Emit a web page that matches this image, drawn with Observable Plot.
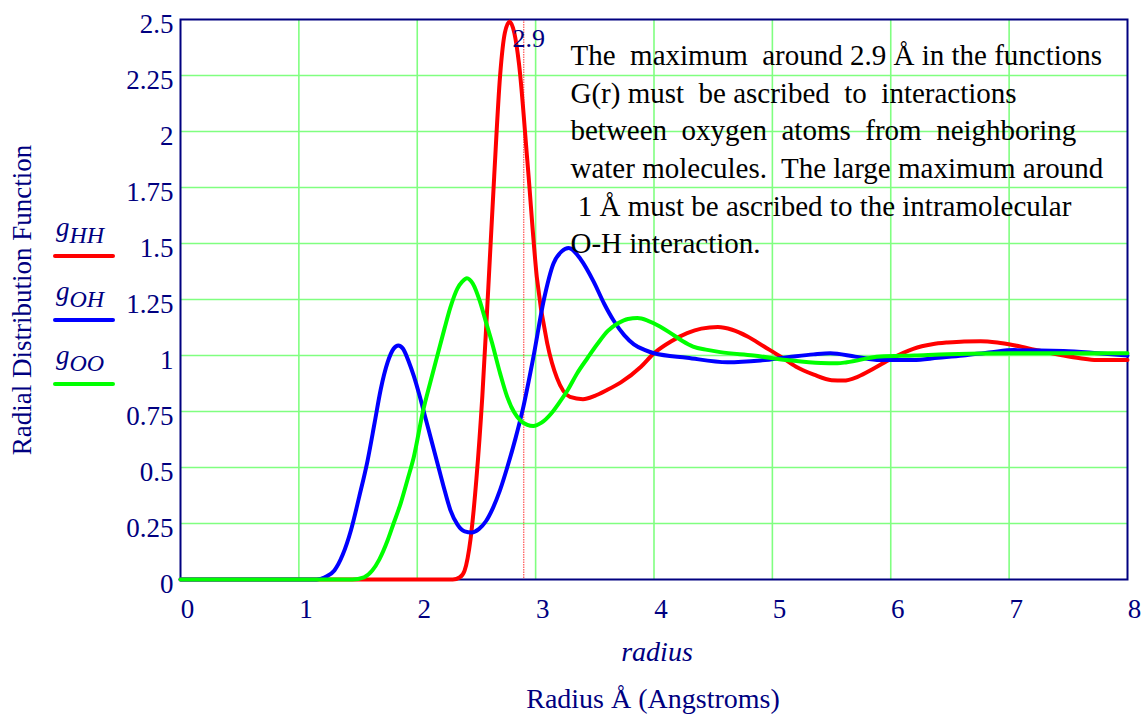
<!DOCTYPE html>
<html><head><meta charset="utf-8">
<script src="https://cdn.jsdelivr.net/npm/d3@7"></script>
<script src="https://cdn.jsdelivr.net/npm/@observablehq/plot@0.6"></script>
<style>
body{margin:0;background:#fff;}
#chart{position:relative;width:1142px;height:714px;font-family:"Liberation Serif","Times New Roman",serif;color:#000080;overflow:hidden;}
#chart svg{position:absolute;left:0;top:0;font-family:"Liberation Serif","Times New Roman",serif !important;}
#chart svg text{font-family:"Liberation Serif","Times New Roman",serif !important;white-space:pre;}
.lab{position:absolute;white-space:nowrap;line-height:1;}
.leg{position:absolute;left:56px;font-style:italic;font-size:27px;line-height:1;white-space:nowrap;}
.leg sub{font-size:24px;vertical-align:-7px;}
.swatch{position:absolute;left:53px;width:62px;height:4px;border-radius:2px;}
</style></head><body><div id="chart"></div>
<script>
// ---- data ----
const xTicks = [0, 1, 2, 3, 4, 5, 6, 7, 8];
const yTicks = [0, 0.25, 0.5, 0.75, 1, 1.25, 1.5, 1.75, 2, 2.25, 2.5];
const markerR = [2.9];

const rHH = [0, 1.0, 2.0, 2.30, 2.36, 2.40, 2.45, 2.50, 2.55, 2.60, 2.65, 2.70, 2.74, 2.78, 2.82, 2.86, 2.93, 3.01, 3.10, 3.18, 3.29, 3.40, 3.50, 3.60, 3.72, 3.89, 4.00, 4.15, 4.28, 4.40, 4.54, 4.66, 4.79, 4.93, 5.07, 5.20, 5.35, 5.50, 5.60, 5.72, 5.86, 6.00, 6.19, 6.35, 6.48, 6.62, 6.76, 6.90, 7.04, 7.25, 7.46, 7.60, 7.74, 8.00];
const gHH = [0, 0, 0, 0, 0.01, 0.04, 0.18, 0.45, 0.82, 1.30, 1.80, 2.25, 2.44, 2.49, 2.44, 2.30, 1.87, 1.35, 1.05, 0.90, 0.815, 0.805, 0.82, 0.845, 0.88, 0.95, 1.01, 1.065, 1.10, 1.12, 1.127, 1.115, 1.085, 1.04, 0.995, 0.95, 0.915, 0.89, 0.888, 0.905, 0.943, 0.985, 1.03, 1.05, 1.058, 1.063, 1.064, 1.058, 1.046, 1.022, 1.0, 0.988, 0.98, 0.98];

const rOH = [0, 0.6, 1.15, 1.22, 1.30, 1.37, 1.44, 1.51, 1.58, 1.64, 1.69, 1.75, 1.80, 1.84, 1.88, 1.93, 1.97, 2.02, 2.07, 2.12, 2.17, 2.22, 2.28, 2.34, 2.40, 2.46, 2.52, 2.58, 2.64, 2.70, 2.76, 2.83, 2.89, 2.98, 3.07, 3.15, 3.22, 3.28, 3.38, 3.49, 3.58, 3.66, 3.75, 3.83, 3.92, 4.00, 4.28, 4.62, 4.90, 5.13, 5.35, 5.49, 5.70, 5.91, 6.19, 6.40, 6.61, 6.85, 7.04, 7.46, 7.75, 8.00];
const gOH = [0, 0, 0, 0.01, 0.04, 0.11, 0.22, 0.37, 0.53, 0.70, 0.845, 0.97, 1.03, 1.045, 1.03, 0.97, 0.91, 0.82, 0.72, 0.62, 0.52, 0.42, 0.31, 0.245, 0.215, 0.21, 0.225, 0.26, 0.32, 0.40, 0.50, 0.63, 0.756, 0.99, 1.25, 1.41, 1.465, 1.48, 1.43, 1.33, 1.23, 1.155, 1.09, 1.05, 1.025, 1.01, 0.99, 0.97, 0.978, 0.992, 1.005, 1.01, 0.995, 0.98, 0.98, 0.99, 1.0, 1.015, 1.024, 1.02, 1.01, 1.0];

const rOO = [0, 0.7, 1.45, 1.55, 1.62, 1.68, 1.75, 1.80, 1.86, 1.92, 1.97, 2.05, 2.11, 2.17, 2.23, 2.28, 2.34, 2.38, 2.42, 2.47, 2.53, 2.58, 2.63, 2.70, 2.76, 2.82, 2.87, 2.93, 2.98, 3.05, 3.13, 3.20, 3.27, 3.35, 3.44, 3.52, 3.61, 3.70, 3.78, 3.86, 3.95, 4.05, 4.14, 4.24, 4.33, 4.45, 4.56, 4.84, 5.12, 5.41, 5.55, 5.63, 5.91, 6.20, 6.48, 7.04, 7.50, 8.00];
const gOO = [0, 0, 0, 0.01, 0.04, 0.09, 0.175, 0.25, 0.34, 0.45, 0.545, 0.755, 0.88, 1.0, 1.12, 1.215, 1.30, 1.33, 1.345, 1.32, 1.24, 1.15, 1.06, 0.92, 0.815, 0.745, 0.71, 0.69, 0.685, 0.70, 0.74, 0.79, 0.845, 0.92, 0.99, 1.05, 1.11, 1.145, 1.163, 1.167, 1.155, 1.13, 1.10, 1.065, 1.04, 1.025, 1.015, 1.0, 0.98, 0.966, 0.965, 0.97, 0.995, 1.0, 1.006, 1.01, 1.01, 1.01];

const seriesNames = ["HH", "OH", "OO"];
const seriesColors = ["#ff0000", "#0000ff", "#00ff00"];
const annotationLines = [
  "The  maximum  around 2.9 Å in the functions",
  "G(r) must  be ascribed  to  interactions",
  "between  oxygen  atoms  from  neighboring",
  "water molecules.  The large maximum around",
  " 1 Å must be ascribed to the intramolecular",
  "O-H interaction."
];
const yTitle = "Radial Distribution Function";
const xVarLabel = "radius";
const xTitle = "Radius Å (Angstroms)";

// ---- build tables ----
const toRows = (rs, gs, s) => rs.map((r, i) => ({r, g: gs[i], s}));
const rowsHH = toRows(rHH, gHH, "HH");
const rowsOH = toRows(rOH, gOH, "OH");
const rowsOO = toRows(rOO, gOO, "OO");

const navy = "#000080";
const gridColor = "#80ff80";
const serif = "'Liberation Serif','Times New Roman',serif";

const chart = Plot.plot({
  width: 1142,
  height: 714,
  marginLeft: 180,
  marginRight: 15,
  marginTop: 19,
  marginBottom: 135,
  style: {fontFamily: serif, fontSize: "26px", color: navy, background: "transparent", overflow: "visible"},
  x: {domain: [0, 8], ticks: xTicks, label: null},
  y: {domain: [0, 2.5], ticks: yTicks, label: null},
  marks: [
    Plot.ruleX(xTicks.slice(1, -1), {stroke: gridColor, strokeWidth: 1.6}),
    Plot.ruleY(yTicks.slice(1, -1), {stroke: gridColor, strokeWidth: 1.6}),
    Plot.ruleX(markerR, {stroke: "#ff3030", strokeWidth: 1, strokeDasharray: "1.5,1"}),
    Plot.frame({stroke: navy, strokeWidth: 2}),
    Plot.line(rowsHH, {x: "r", y: "g", stroke: seriesColors[0], strokeWidth: 4, curve: "monotone-x"}),
    Plot.line(rowsOH, {x: "r", y: "g", stroke: seriesColors[1], strokeWidth: 4, curve: "monotone-x"}),
    Plot.line(rowsOO, {x: "r", y: "g", stroke: seriesColors[2], strokeWidth: 4, curve: "monotone-x"}),
    Plot.axisY(yTicks, {tickSize: 0, tickPadding: 7, fontSize: 27, dy: 5, tickFormat: d => String(d), fill: navy, fontFamily: serif}),
    Plot.axisX(xTicks, {tickSize: 0, tickPadding: 19, fontSize: 27, dx: 7, tickFormat: d => String(d), fill: navy, fontFamily: serif}),
    Plot.text(markerR, {x: d => d, frameAnchor: "top", dy: 19, dx: 5, text: d => String(d), fill: navy, fontSize: 26, lineAnchor: "middle", fontFamily: serif}),
    Plot.text([annotationLines.join("\n")], {frameAnchor: "top-left", dx: 390, dy: 19, lineAnchor: "top", lineHeight: 1.297, textAnchor: "start", fill: "black", fontSize: 29, fontFamily: serif})
  ]
});
chart.querySelectorAll("text").forEach(t => t.setAttribute("xml:space", "preserve"));
const root = document.getElementById("chart");
root.appendChild(chart);

// legend
const legTops = [214, 278, 342];
const swTops = [254, 318, 382];
seriesNames.forEach((n, i) => {
  const l = document.createElement("div");
  l.className = "leg";
  l.style.top = legTops[i] + "px";
  l.innerHTML = "g<sub>" + n + "</sub>";
  root.appendChild(l);
  const s = document.createElement("div");
  s.className = "swatch";
  s.style.top = swTops[i] + "px";
  s.style.background = seriesColors[i];
  root.appendChild(s);
});

// axis titles
const yt = document.createElement("div");
yt.className = "lab";
yt.textContent = yTitle;
yt.style.fontSize = "27px";
yt.style.left = "22px";
yt.style.top = "300px";
yt.style.transform = "translate(-50%,-50%) rotate(-90deg)";
root.appendChild(yt);

const xv = document.createElement("div");
xv.className = "lab";
xv.textContent = xVarLabel;
xv.style.fontSize = "28px";
xv.style.fontStyle = "italic";
xv.style.left = "657px";
xv.style.top = "652px";
xv.style.transform = "translate(-50%,-50%)";
root.appendChild(xv);

const xt = document.createElement("div");
xt.className = "lab";
xt.textContent = xTitle;
xt.style.fontSize = "28px";
xt.style.left = "653px";
xt.style.top = "699px";
xt.style.transform = "translate(-50%,-50%)";
root.appendChild(xt);
</script>
</body></html>
